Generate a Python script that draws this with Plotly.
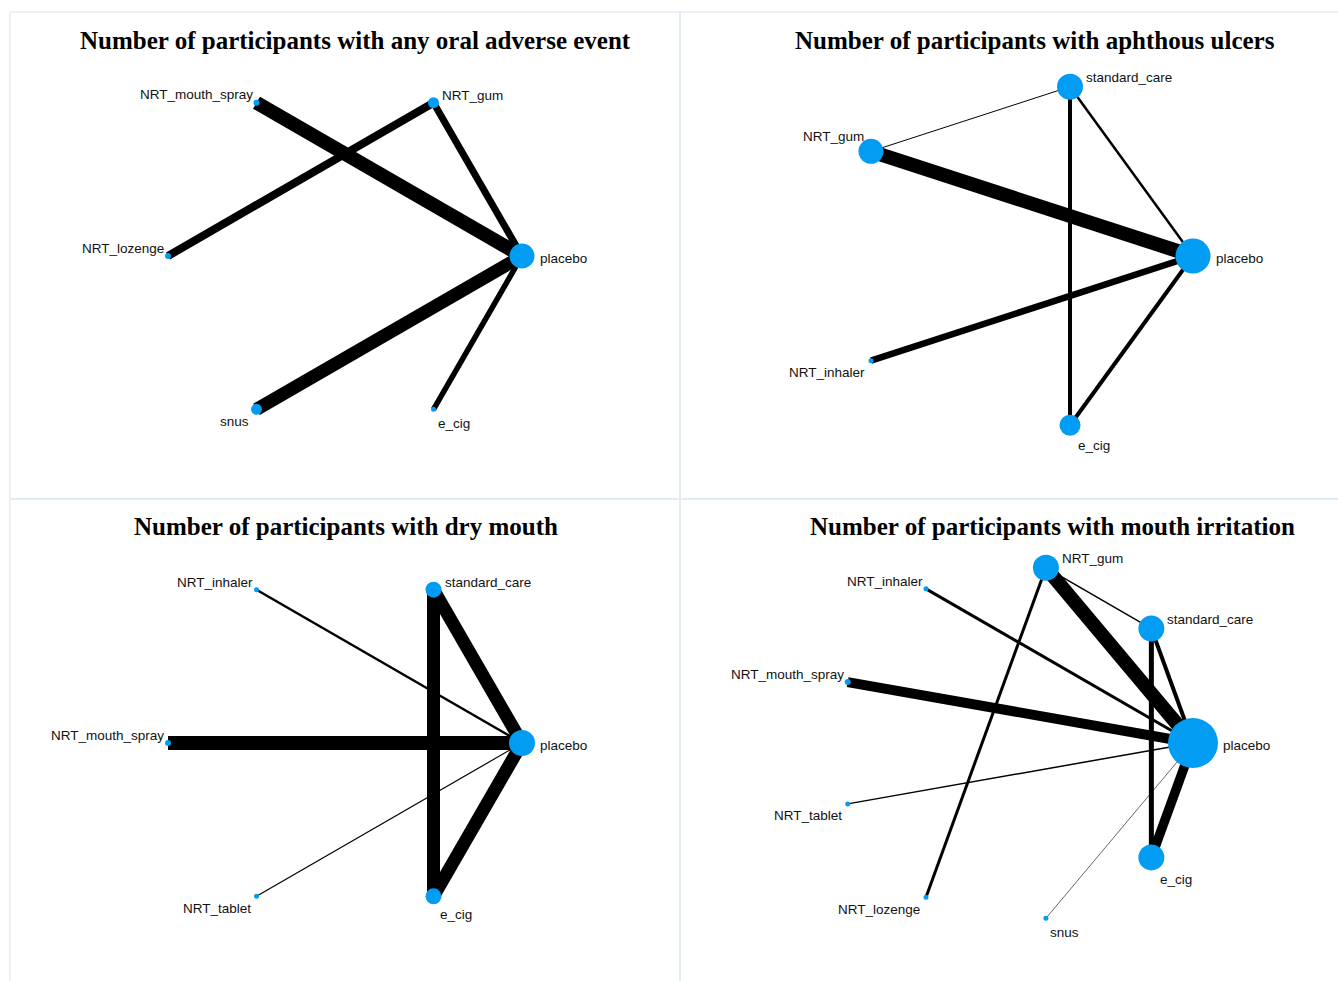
import math
import plotly.graph_objects as go

W, H = 1338, 981

# ---------------- data ----------------
titles = [
    "Number of participants with any oral adverse event",
    "Number of participants with aphthous ulcers",
    "Number of participants with dry mouth",
    "Number of participants with mouth irritation",
]

# treatments, in circular-layout order (counter-clockwise from placebo)
p1_nodes = ["placebo", "NRT_gum", "NRT_mouth_spray", "NRT_lozenge", "snus", "e_cig"]
p1_node_weight = [25, 11, 6, 6, 11, 5]
p1_edges_from = ["NRT_mouth_spray", "snus", "NRT_gum", "NRT_gum", "e_cig"]
p1_edges_to = ["placebo", "placebo", "NRT_lozenge", "placebo", "placebo"]
p1_edge_weight = [14, 13, 8, 7, 5.5]

p2_nodes = ["placebo", "standard_care", "NRT_gum", "NRT_inhaler", "e_cig"]
p2_node_weight = [35, 26, 25, 5, 21]
p2_edges_from = ["NRT_gum", "NRT_inhaler", "standard_care", "e_cig", "standard_care", "NRT_gum"]
p2_edges_to = ["placebo", "placebo", "e_cig", "placebo", "placebo", "standard_care"]
p2_edge_weight = [14, 6.5, 4, 4, 2.5, 1]

p3_nodes = ["placebo", "standard_care", "NRT_inhaler", "NRT_mouth_spray", "NRT_tablet", "e_cig"]
p3_node_weight = [26, 16, 5, 6, 5, 16]
p3_edges_from = ["NRT_mouth_spray", "standard_care", "e_cig", "standard_care", "NRT_inhaler", "NRT_tablet"]
p3_edges_to = ["placebo", "placebo", "placebo", "e_cig", "placebo", "placebo"]
p3_edge_weight = [14, 13, 13, 13, 2.5, 1.2]

p4_nodes = ["placebo", "standard_care", "NRT_gum", "NRT_inhaler", "NRT_mouth_spray",
            "NRT_tablet", "NRT_lozenge", "snus", "e_cig"]
p4_node_weight = [50, 26, 26, 5, 6, 5, 5, 5, 26]
p4_edges_from = ["NRT_gum", "NRT_mouth_spray", "e_cig", "standard_care", "standard_care",
                 "NRT_inhaler", "NRT_gum", "NRT_gum", "NRT_tablet", "snus"]
p4_edges_to = ["placebo", "placebo", "placebo", "e_cig", "placebo",
               "placebo", "NRT_lozenge", "standard_care", "placebo", "placebo"]
p4_edge_weight = [14, 10, 9.5, 5, 4, 3, 3, 1.5, 1.5, 0.6]

panels_data = [
    (p1_nodes, p1_node_weight, p1_edges_from, p1_edges_to, p1_edge_weight),
    (p2_nodes, p2_node_weight, p2_edges_from, p2_edges_to, p2_edge_weight),
    (p3_nodes, p3_node_weight, p3_edges_from, p3_edges_to, p3_edge_weight),
    (p4_nodes, p4_node_weight, p4_edges_from, p4_edges_to, p4_edge_weight),
]

# ---------------- layout / style ----------------
NODE_SCALE = 1.0
EDGE_SCALE = 1.0
NODE_COLOR = "#029CF2"
BORDER = "#E4ECF3"
LABEL_FONT = dict(family="Liberation Sans, Arial, sans-serif", size=13.5, color="#111")
TITLE_FONT = dict(family="Liberation Serif, Times New Roman, serif", size=25, color="black")

# panel boxes in pixels (x0, x1, y0, y1), circle centre/radius in pixels
boxes = [(10, 680, 12, 499), (680, 1338, 12, 499), (10, 680, 499, 981), (680, 1338, 499, 981)]
circles = [(345, 256, 177), (1015, 256, 178), (345, 743, 177), (1015, 743, 178)]
title_pos = [(355, 41), (1035, 41), (346, 526), (1052, 526)]


def label_place(angle_deg, r):
    """Return xanchor, yanchor, xshift, yshift for a node label (r = marker radius px)."""
    a = angle_deg % 360
    if abs(a) < 1e-6:
        return "left", "middle", r + 4, -2
    if a < 90:
        return "left", "bottom", r + 2, 0.25 * r - 3
    if a <= 180:
        return "right", "bottom", -(0.35 * r + 1.5), 0.75 * r - 3
    if a < 270:
        return "right", "top", -(0.7 * r + 3), -(0.2 * r + 3)
    return "left", "top", 0.45 * r + 2, -(0.75 * r + 3.5)


fig = go.Figure()
layout_axes = {}
annotations = []

for k, (nodes, nw, efrom, eto, ew) in enumerate(panels_data):
    n = len(nodes)
    angles = [360.0 * i / n for i in range(n)]
    xs = [math.cos(math.radians(a)) for a in angles]
    ys = [math.sin(math.radians(a)) for a in angles]
    pos = {nm: (xs[i], ys[i]) for i, nm in enumerate(nodes)}
    xa = "x" if k == 0 else f"x{k+1}"
    ya = "y" if k == 0 else f"y{k+1}"

    for a, b, w in zip(efrom, eto, ew):
        fig.add_trace(go.Scatter(
            x=[pos[a][0], pos[b][0]], y=[pos[a][1], pos[b][1]],
            mode="lines", line=dict(color="black", width=w * EDGE_SCALE),
            hoverinfo="skip", showlegend=False, xaxis=xa, yaxis=ya))

    sizes = [v * NODE_SCALE for v in nw]
    fig.add_trace(go.Scatter(
        x=xs, y=ys, mode="markers", text=nodes,
        marker=dict(size=sizes, color=NODE_COLOR, line=dict(width=0), opacity=1),
        hoverinfo="text", showlegend=False, xaxis=xa, yaxis=ya, cliponaxis=False))

    for i, nm in enumerate(nodes):
        xan, yan, xsh, ysh = label_place(angles[i], sizes[i] / 2)
        annotations.append(dict(
            text=nm, x=xs[i], y=ys[i], xref=xa, yref=ya, xanchor=xan, yanchor=yan,
            xshift=xsh, yshift=ysh, showarrow=False, font=LABEL_FONT, borderpad=0))

    x0, x1, y0, y1 = boxes[k]
    cx, cy, r = circles[k]
    axcfg = dict(visible=False, showgrid=False, zeroline=False, fixedrange=True)
    layout_axes["xaxis" if k == 0 else f"xaxis{k+1}"] = dict(
        domain=[x0 / W, x1 / W], range=[(x0 - cx) / r, (x1 - cx) / r], anchor=ya, **axcfg)
    layout_axes["yaxis" if k == 0 else f"yaxis{k+1}"] = dict(
        domain=[1 - y1 / H, 1 - y0 / H], range=[(cy - y1) / r, (cy - y0) / r], anchor=xa, **axcfg)

    tx, ty = title_pos[k]
    annotations.append(dict(
        text=f"<b>{titles[k]}</b>", x=tx / W, y=1 - ty / H, xref="paper", yref="paper",
        xanchor="center", yanchor="middle", showarrow=False, font=TITLE_FONT))

shapes = [
    dict(type="line", xref="paper", yref="paper", x0=10 / W, x1=10 / W, y0=0, y1=1 - 12 / H,
         line=dict(color=BORDER, width=1.5)),
    dict(type="line", xref="paper", yref="paper", x0=680 / W, x1=680 / W, y0=0, y1=1 - 12 / H,
         line=dict(color=BORDER, width=2)),
    dict(type="line", xref="paper", yref="paper", x0=10 / W, x1=1, y0=1 - 12 / H, y1=1 - 12 / H,
         line=dict(color=BORDER, width=1.5)),
    dict(type="line", xref="paper", yref="paper", x0=10 / W, x1=1, y0=1 - 499 / H, y1=1 - 499 / H,
         line=dict(color=BORDER, width=2)),
]

fig.update_layout(
    width=W, height=H, margin=dict(l=0, r=0, t=0, b=0),
    paper_bgcolor="white", plot_bgcolor="white",
    annotations=annotations, shapes=shapes, showlegend=False,
    **layout_axes)

fig.write_html("out.html", config={"displayModeBar": False})
